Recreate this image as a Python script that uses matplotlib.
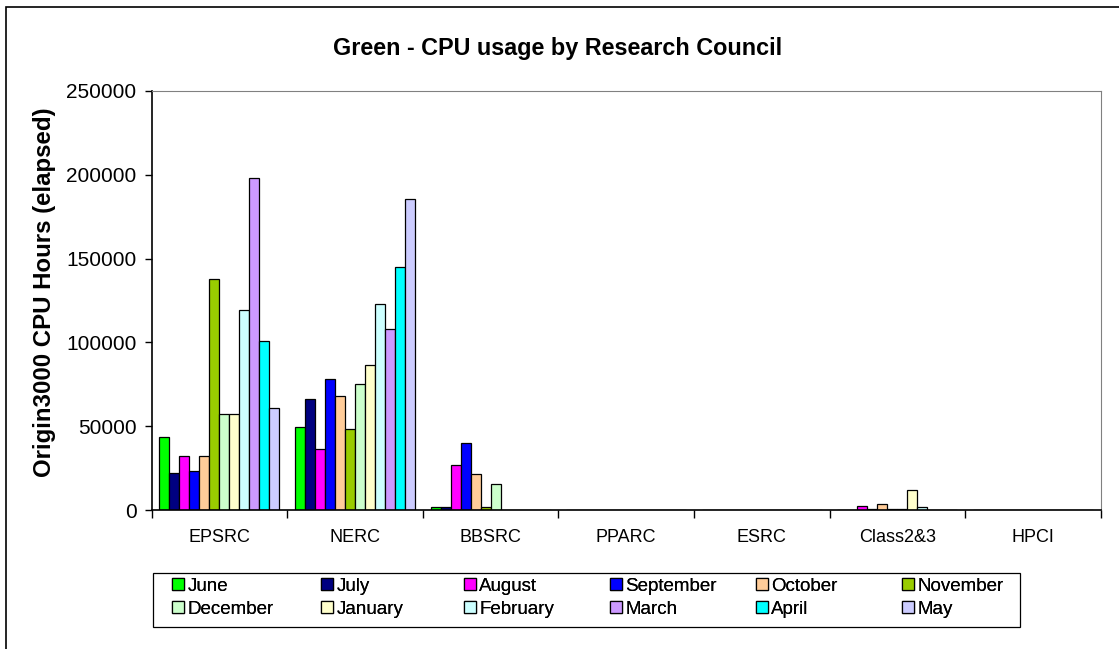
import numpy as np
import matplotlib
matplotlib.use('Agg')
import matplotlib.pyplot as plt
from matplotlib.patches import Rectangle, Patch
from matplotlib.ticker import FixedLocator

plt.rcParams['font.family'] = ['Liberation Sans', 'DejaVu Sans']

councils = ['EPSRC', 'NERC', 'BBSRC', 'PPARC', 'ESRC', 'Class2&3', 'HPCI']
months = ['June', 'July', 'August', 'September', 'October', 'November',
          'December', 'January', 'February', 'March', 'April', 'May']
colours = ['#00FF00', '#000080', '#FF00FF', '#0000FF', '#FFCC99', '#99CC00',
           '#CCFFCC', '#FFFFCC', '#CCFFFF', '#CC99FF', '#00FFFF', '#CCCCFF']

# CPU hours per council, one list per month (council order as above)
june = [43600, 49600, 1600, 0, 0, 0, 0]
july = [21800, 66200, 1600, 0, 0, 0, 0]
august = [32100, 36500, 26800, 0, 0, 2400, 0]
september = [23200, 78300, 40100, 0, 0, 300, 0]
october = [32100, 67800, 21400, 0, 0, 3400, 0]
november = [137900, 48600, 1600, 0, 0, 600, 0]
december = [57500, 75000, 15500, 0, 0, 600, 0]
january = [57500, 86300, 0, 0, 0, 11900, 0]
february = [119400, 123000, 0, 0, 0, 1600, 0]
march = [198000, 108100, 0, 0, 0, 0, 0]
april = [101100, 144800, 0, 0, 0, 0, 0]
may = [61100, 185800, 0, 0, 0, 0, 0]

series = [june, july, august, september, october, november,
          december, january, february, march, april, may]


def main():
    W, H = 1119, 649
    fig = plt.figure(figsize=(W / 100, H / 100), dpi=100)
    ax = fig.add_axes([151.7 / W, 1 - 510 / H, 949 / W, 419 / H])

    n = len(months)
    bar_w = 10 / 135.6
    x = np.arange(len(councils))
    for i, (vals, col) in enumerate(zip(series, colours)):
        pos = x + (i - (n - 1) / 2) * bar_w
        ax.bar(pos, vals, width=bar_w, color=col, edgecolor='black',
               linewidth=0.9, label=months[i])

    ax.set_xlim(-0.5, len(councils) - 0.5)
    ax.set_ylim(0, 250000)
    ax.set_yticks(np.arange(0, 250001, 50000))
    ax.tick_params(axis='y', labelsize=15, length=5, width=1, pad=6)

    # category boundaries as ticks, names at centres
    ax.xaxis.set_major_locator(FixedLocator(np.arange(-0.5, len(councils), 1)))
    ax.set_xticklabels([])
    ax.xaxis.set_minor_locator(FixedLocator(x))
    ax.set_xticklabels(councils, minor=True)
    ax.tick_params(axis='x', which='major', length=6, width=1)
    ax.tick_params(axis='x', which='minor', length=0, labelsize=13, pad=14)

    for s in ['top', 'right']:
        ax.spines[s].set_color('#808080')
    for s in ['left', 'bottom']:
        ax.spines[s].set_color('black')
        ax.spines[s].set_linewidth(1.2)

    fig.text(45 / W, 1 - 292 / H, 'Origin3000 CPU Hours (elapsed)',
             rotation=90, ha='center', va='center', fontsize=17.3,
             fontweight='bold')
    fig.text(558 / W, 1 - 48 / H, 'Green - CPU usage by Research Council',
             ha='center', va='center', fontsize=16.8, fontweight='bold')

    # legend: a frame and six two-row columns on a fixed grid
    fig.patches.append(Rectangle((153 / W, 1 - 627 / H), 867 / W, 54 / H,
                                 transform=fig.transFigure, fill=False,
                                 edgecolor='black', linewidth=0.9))
    col_x = [172, 321, 464, 610, 756, 902]
    for j, cx in enumerate(col_x):
        handles = [Patch(facecolor=colours[k], edgecolor='black',
                         linewidth=0.9, label=months[k]) for k in (j, j + 6)]
        leg = fig.legend(handles=handles, loc='upper left',
                         bbox_to_anchor=(cx / W, 1 - 578 / H),
                         fontsize=13.5, frameon=False, handlelength=0.62,
                         handleheight=0.62, handletextpad=0.2,
                         borderaxespad=0, borderpad=0, labelspacing=0.3)
        fig.add_artist(leg)

    fig.patches.append(Rectangle((6 / W, -0.1), 1.2, 1 - 7 / H + 0.1,
                                 transform=fig.transFigure, fill=False,
                                 edgecolor='black', linewidth=1.2))

    fig.savefig('out.png', dpi=100)


if __name__ == '__main__':
    main()
